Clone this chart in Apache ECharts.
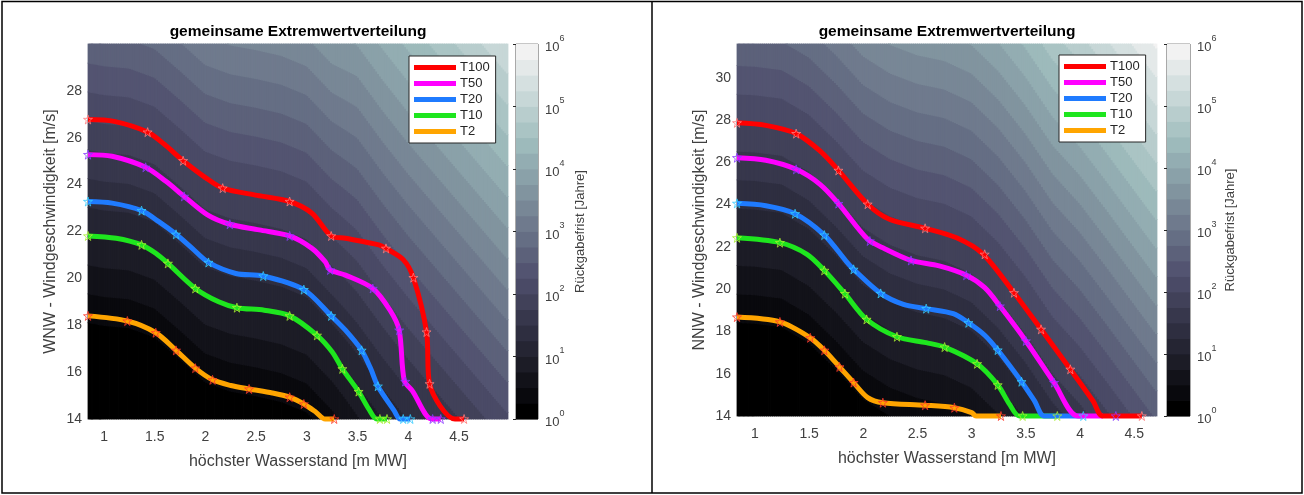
<!DOCTYPE html>
<html><head><meta charset="utf-8">
<script src="https://cdn.jsdelivr.net/npm/echarts@6/dist/echarts.min.js"></script>
<style>html,body{margin:0;padding:0;background:#fff}#c{width:1304px;height:495px}</style>
</head><body><div id="c"></div>
<script>
// ---------------- DATA ----------------
const seriesNames = ['T100', 'T50', 'T20', 'T10', 'T2'];
const xTickValues = [1, 1.5, 2, 2.5, 3, 3.5, 4, 4.5];
const yTickValuesLeft = [14, 16, 18, 20, 22, 24, 26, 28];
const yTickValuesRight = [14, 16, 18, 20, 22, 24, 26, 28, 30];
const cbLevels = [0, 0.25, 0.5, 0.75, 1, 1.25, 1.5, 1.75, 2, 2.25, 2.5, 2.75, 3, 3.25, 3.5, 3.75, 4, 4.25, 4.5, 4.75, 5, 5.25, 5.5, 5.75, 6];
const cbTickExponents = [0, 1, 2, 3, 4, 5, 6];

// left panel (WNW) contour lines
const lT100X = [0.842, 1.10, 1.43, 1.60, 1.78, 2.00, 2.17, 2.51, 2.83, 3.05, 3.24, 3.38, 3.71, 3.78, 3.95, 4.05, 4.18, 4.21, 4.46, 4.55];
const lT100Y = [26.78, 26.70, 26.24, 25.70, 25.02, 24.30, 23.85, 23.54, 23.28, 22.78, 21.81, 21.71, 21.43, 21.28, 20.80, 20.03, 17.71, 15.50, 14.0, 14.0];
const lT50X = [0.842, 1.08, 1.41, 1.61, 1.79, 2.02, 2.24, 2.53, 2.83, 3.05, 3.18, 3.23, 3.38, 3.65, 3.82, 3.91, 3.96, 4.04, 4.23, 4.32];
const lT50Y = [25.28, 25.21, 24.74, 24.14, 23.50, 22.71, 22.31, 22.07, 21.81, 21.28, 20.71, 20.36, 20.14, 19.57, 18.64, 17.79, 15.64, 15.20, 14.0, 14.0];
const lT20X = [0.842, 1.08, 1.37, 1.54, 1.71, 1.87, 2.03, 2.30, 2.57, 2.97, 3.24, 3.38, 3.54, 3.63, 3.70, 3.86, 3.92, 4.02];
const lT20Y = [23.28, 23.21, 22.89, 22.42, 21.88, 21.28, 20.68, 20.21, 20.10, 19.52, 18.40, 17.79, 16.93, 16.14, 15.40, 14.36, 14.0, 14.0];
const lT10X = [0.842, 1.12, 1.37, 1.51, 1.63, 1.90, 2.13, 2.31, 2.58, 2.83, 3.10, 3.25, 3.35, 3.51, 3.61, 3.69, 3.79];
const lT10Y = [21.81, 21.71, 21.43, 21.07, 20.64, 19.57, 19.00, 18.75, 18.64, 18.40, 17.57, 16.86, 16.14, 15.17, 14.43, 14.0, 14.0];
const lT2X = [0.842, 1.23, 1.51, 1.71, 1.90, 2.07, 2.25, 2.43, 2.66, 2.83, 2.97, 3.09, 3.18, 3.27];
const lT2Y = [18.40, 18.18, 17.68, 16.93, 16.17, 15.67, 15.43, 15.28, 15.11, 14.93, 14.64, 14.29, 14.0, 14.0];

// left panel star markers
const lS100X = [0.842, 1.43, 1.78, 2.17, 2.83, 3.24, 3.78, 4.05, 4.18, 4.21, 4.55];
const lS100Y = [26.78, 26.24, 25.02, 23.85, 23.28, 21.81, 21.28, 20.03, 17.71, 15.50, 14.0];
const lS50X = [0.842, 1.41, 1.79, 2.24, 2.83, 3.23, 3.65, 3.91, 3.97, 4.24, 4.32];
const lS50Y = [25.28, 24.74, 23.50, 22.31, 21.81, 20.36, 19.57, 17.79, 15.60, 14.0, 14.0];
const lS20X = [0.842, 1.37, 1.71, 2.03, 2.57, 2.97, 3.24, 3.54, 3.70, 3.95, 4.02];
const lS20Y = [23.28, 22.89, 21.88, 20.68, 20.10, 19.52, 18.40, 16.93, 15.40, 14.0, 14.0];
const lS10X = [0.842, 1.37, 1.63, 1.90, 2.31, 2.83, 3.10, 3.35, 3.51, 3.72, 3.79];
const lS10Y = [21.81, 21.43, 20.64, 19.57, 18.75, 18.40, 17.57, 16.14, 15.17, 14.0, 14.0];
const lS2X = [0.842, 1.23, 1.51, 1.71, 1.90, 2.07, 2.43, 2.83, 2.97, 3.27];
const lS2Y = [18.40, 18.18, 17.68, 16.93, 16.17, 15.67, 15.28, 14.93, 14.64, 14.0];

// right panel (NNW) contour lines
const rT100X = [0.834, 1.10, 1.38, 1.60, 1.77, 2.04, 2.24, 2.57, 2.86, 3.10, 3.39, 3.64, 3.91, 4.12, 4.21, 4.57];
const rT100Y = [27.87, 27.75, 27.36, 26.54, 25.62, 24.02, 23.31, 22.88, 22.43, 21.68, 19.83, 18.10, 16.21, 14.71, 14.0, 14.0];
const rT50X = [0.834, 1.10, 1.38, 1.60, 1.77, 2.04, 2.18, 2.44, 2.70, 2.95, 3.12, 3.26, 3.50, 3.76, 3.98, 4.21];
const rT50Y = [26.22, 26.10, 25.67, 24.96, 24.05, 22.36, 21.96, 21.36, 21.10, 20.66, 20.07, 19.20, 17.55, 15.58, 14.0, 14.0];
const rT20X = [0.834, 1.10, 1.37, 1.64, 1.84, 1.91, 2.16, 2.37, 2.58, 2.83, 2.97, 3.12, 3.24, 3.46, 3.58, 3.67, 4.03];
const rT20Y = [24.06, 23.95, 23.57, 22.56, 21.33, 20.94, 19.80, 19.28, 19.08, 18.84, 18.41, 17.82, 17.12, 15.62, 14.71, 14.0, 14.0];
const rT10X = [0.834, 1.23, 1.48, 1.64, 1.83, 2.03, 2.31, 2.58, 2.75, 3.05, 3.24, 3.35, 3.44, 3.79];
const rT10Y = [22.43, 22.20, 21.65, 20.89, 19.79, 18.57, 17.75, 17.47, 17.26, 16.47, 15.47, 14.55, 14.0, 14.0];
const rT2X = [0.834, 1.23, 1.51, 1.64, 1.78, 1.91, 2.04, 2.18, 2.57, 2.84, 3.00, 3.04, 3.27];
const rT2Y = [18.68, 18.45, 17.70, 17.11, 16.32, 15.58, 14.87, 14.63, 14.51, 14.39, 14.16, 14.0, 14.0];

// right panel star markers
const rS100X = [0.834, 1.38, 1.77, 2.04, 2.57, 3.12, 3.39, 3.64, 3.91, 4.57];
const rS100Y = [27.87, 27.36, 25.62, 24.02, 22.88, 21.65, 19.83, 18.10, 16.21, 14.0];
const rS50X = [0.834, 1.38, 1.77, 2.06, 2.44, 2.95, 3.26, 3.50, 3.76, 4.33];
const rS50Y = [26.22, 25.67, 24.05, 22.28, 21.36, 20.66, 19.20, 17.55, 15.58, 14.0];
const rS20X = [0.834, 1.37, 1.64, 1.91, 2.16, 2.58, 2.97, 3.24, 3.46, 4.03];
const rS20Y = [24.06, 23.57, 22.56, 20.94, 19.80, 19.08, 18.41, 17.12, 15.62, 14.0];
const rS10X = [0.834, 1.23, 1.64, 1.83, 2.03, 2.31, 2.75, 3.05, 3.24, 3.47, 3.79];
const rS10Y = [22.43, 22.20, 20.89, 19.79, 18.57, 17.75, 17.26, 16.47, 15.47, 14.0, 14.0];
const rS2X = [0.834, 1.23, 1.51, 1.64, 1.78, 1.91, 2.18, 2.57, 2.84, 3.27];
const rS2Y = [18.68, 18.45, 17.70, 17.11, 16.32, 15.58, 14.63, 14.51, 14.39, 14.0];

// background field: log10(return period) read at column nodes, bottom row and top row
const lBgX = [0.75, 1.0, 1.25, 1.5, 1.75, 2.0, 2.25, 2.5, 2.75, 3.0, 3.25, 3.5, 3.75, 4.0, 4.25, 4.5, 4.75, 5.0];
const lBgBottom = [-0.60, -0.56, -0.54, -0.46, -0.27, -0.07, 0.01, 0.05, 0.10, 0.19, 0.42, 0.72, 1.00, 1.26, 1.50, 1.74, 1.98, 2.22];   // at y = 14
const lBgTop = [2.65, 2.69, 2.71, 2.79, 2.98, 3.18, 3.26, 3.30, 3.35, 3.44, 3.67, 3.76, 4.04, 4.30, 4.54, 4.78, 5.02, 5.26];          // at y = 30
const rBgX = [0.75, 1.0, 1.25, 1.5, 1.75, 2.0, 2.25, 2.5, 2.75, 3.0, 3.25, 3.5, 3.75, 4.0, 4.25, 4.5, 4.75];
const rBgBottom = [-0.57, -0.56, -0.53, -0.39, -0.16, 0.10, 0.25, 0.34, 0.39, 0.50, 0.73, 1.03, 1.38, 1.64, 1.95, 2.27, 2.59];      // at y = 14
const rBgTop = [2.76, 2.77, 2.80, 2.94, 3.17, 3.43, 3.58, 3.67, 3.72, 3.83, 4.06, 4.36, 4.71, 4.97, 5.28, 5.60, 5.92];               // at y = 32

// ---------------- STYLE ----------------
const FONT = '"Liberation Sans", Arial, Helvetica, sans-serif';
const lineColors = ['#ff0000', '#ff00ff', '#1f7bff', '#1ee61e', '#ffa500'];
const starColors = ['#ff7a7a', '#8a3cff', '#33ccff', '#a8f030', '#ff3a2a'];
const STAR = 'path://M50,2 L61,37 L98,37 L68,59 L79,95 L50,73 L21,95 L32,59 L2,37 L39,37 Z';

function clamp01(v) { return Math.max(0, Math.min(1, v)); }
function bone(t) {
  const hr = Math.min(1, t / 0.375), hg = clamp01((t - 0.375) / 0.375), hb = clamp01((t - 0.75) / 0.25);
  return [(7 * t + hb) / 8, (7 * t + hg) / 8, (7 * t + hr) / 8];
}
const NB = cbLevels.length - 1;
const bandColors = [];
for (let k = 0; k < NB; k++) {
  const c = bone(k / (NB - 1)).map(v => Math.round(v * 255 * 0.95));
  bandColors.push('rgb(' + c.join(',') + ')');
}

function makeBg(bgX, bgBot, bgTop, yB, yT, xMin, xMax, yMin, yMax) {
  return function (params, api) {
    const i = api.value(2);
    const xa0 = bgX[i], xb0 = bgX[i + 1];
    const xa = Math.max(xa0, xMin), xb = Math.min(xb0, xMax);
    if (xb <= xa) return;
    const nSub = 14, children = [];
    for (let s = 0; s < nSub; s++) {
      const x0 = xa + (xb - xa) * s / nSub, x1 = xa + (xb - xa) * (s + 1) / nSub;
      const t = ((x0 + x1) / 2 - xa0) / (xb0 - xa0);
      const Lb = bgBot[i] + (bgBot[i + 1] - bgBot[i]) * t;
      const Lt = bgTop[i] + (bgTop[i + 1] - bgTop[i]) * t;
      const yOf = L => yB + (L - Lb) / (Lt - Lb) * (yT - yB);
      for (let k = 0; k < NB; k++) {
        let lo = k === 0 ? yMin : yOf(cbLevels[k]);
        let hi = k === NB - 1 ? yMax : yOf(cbLevels[k + 1]);
        lo = Math.max(lo, yMin); hi = Math.min(hi, yMax);
        if (hi <= lo) continue;
        const p0 = api.coord([x0, hi]), p1 = api.coord([x1, lo]);
        children.push({ type: 'rect', silent: true,
          shape: { x: p0[0] - 0.4, y: p0[1] - 0.4, width: p1[0] - p0[0] + 0.8, height: p1[1] - p0[1] + 0.8 },
          style: { fill: bandColors[k] } });
      }
    }
    return { type: 'group', children: children };
  };
}

function cbRender(params, api) {
  const k = api.value(2);
  const p0 = api.coord([0, Math.pow(10, cbLevels[k + 1])]);
  const p1 = api.coord([1, Math.pow(10, cbLevels[k])]);
  return { type: 'rect', silent: true,
    shape: { x: p0[0], y: p0[1] - 0.4, width: p1[0] - p0[0], height: p1[1] - p0[1] + 0.8 },
    style: { fill: bandColors[k] } };
}

const zip = (xs, ys) => xs.map((x, i) => [x, ys[i]]);

const panels = [
  { xMin: 0.842, xMax: 4.983, yMin: 14, yMax: 30, yTicks: yTickValuesLeft, yName: 'WNW - Windgeschwindigkeit [m/s]',
    grid: { left: 88, top: 44, width: 420, height: 375 }, cb: { left: 516, top: 44, width: 22, height: 375 },
    titleX: 298, legend: { left: 409, top: 56 }, cbGap: 36,
    bg: [lBgX, lBgBottom, lBgTop, 14, 30],
    lines: [[lT100X, lT100Y], [lT50X, lT50Y], [lT20X, lT20Y], [lT10X, lT10Y], [lT2X, lT2Y]],
    stars: [[lS100X, lS100Y], [lS50X, lS50Y], [lS20X, lS20Y], [lS10X, lS10Y], [lS2X, lS2Y]] },
  { xMin: 0.834, xMax: 4.71, yMin: 14, yMax: 31.6, yTicks: yTickValuesRight, yName: 'NNW - Windgeschwindigkeit [m/s]',
    grid: { left: 737, top: 44, width: 420, height: 372 }, cb: { left: 1167, top: 44, width: 23, height: 372 },
    titleX: 947, legend: { left: 1059, top: 55 }, cbGap: 34,
    bg: [rBgX, rBgBottom, rBgTop, 14, 32],
    lines: [[rT100X, rT100Y], [rT50X, rT50Y], [rT20X, rT20Y], [rT10X, rT10Y], [rT2X, rT2Y]],
    stars: [[rS100X, rS100Y], [rS50X, rS50Y], [rS20X, rS20Y], [rS10X, rS10Y], [rS2X, rS2Y]] }
];

const option = { animation: false, textStyle: { fontFamily: FONT },
  title: [], grid: [], xAxis: [], yAxis: [], legend: [], series: [],
  graphic: [
    { type: 'rect', shape: { x: 2, y: 1.5, width: 1300, height: 491.5 }, style: { fill: 'none', stroke: '#000', lineWidth: 1.5 }, silent: true, z: 100 },
    { type: 'line', shape: { x1: 652, y1: 1.5, x2: 652, y2: 493 }, style: { stroke: '#000', lineWidth: 1.5 }, silent: true, z: 100 }
  ] };

panels.forEach((p, pi) => {
  const gMain = pi * 2, gCb = pi * 2 + 1;
  option.title.push({ text: 'gemeinsame Extremwertverteilung', left: p.titleX, top: 24, textAlign: 'center', padding: 0,
    textStyle: { fontSize: 15.5, fontWeight: 'bold', color: '#000', fontFamily: FONT } });
  option.grid.push(Object.assign({ containLabel: false }, p.grid));
  option.grid.push(Object.assign({ show: true, borderColor: '#262626', borderWidth: 0.8, containLabel: false }, p.cb));
  option.xAxis.push({ type: 'value', gridIndex: gMain, min: p.xMin, max: p.xMax,
    axisLine: { show: false }, axisTick: { show: false }, splitLine: { show: false },
    axisLabel: { customValues: xTickValues, fontSize: 14, color: '#404040', margin: 11, fontFamily: FONT },
    name: 'höchster Wasserstand [m MW]', nameLocation: 'middle', nameGap: 35,
    nameTextStyle: { fontSize: 16, color: '#404040', fontFamily: FONT } });
  option.xAxis.push({ type: 'value', gridIndex: gCb, min: 0, max: 1, show: false });
  option.yAxis.push({ type: 'value', gridIndex: gMain, min: p.yMin, max: p.yMax,
    axisLine: { show: false }, axisTick: { show: false }, splitLine: { show: false },
    axisLabel: { customValues: p.yTicks, fontSize: 14, color: '#404040', margin: 6, fontFamily: FONT },
    name: p.yName, nameLocation: 'middle', nameGap: 29, nameRotate: 90,
    nameTextStyle: { fontSize: 16, color: '#404040', fontFamily: FONT } });
  option.yAxis.push({ type: 'log', logBase: 10, gridIndex: gCb, min: 1, max: 1e6, position: 'right',
    axisLine: { show: false }, splitLine: { show: false },
    axisTick: { show: true, inside: true, length: 3, lineStyle: { color: '#262626', width: 1 }, customValues: cbTickExponents.map(e => Math.pow(10, e)) },
    axisLabel: { customValues: cbTickExponents.map(e => Math.pow(10, e)), margin: 7,
      formatter: v => '{b|10}{s|' + Math.round(Math.log10(v)) + '}',
      rich: { b: { fontSize: 13, color: '#404040', fontFamily: FONT, padding: [7, 0, 0, 0] },
              s: { fontSize: 9, color: '#404040', fontFamily: FONT, verticalAlign: 'top' } } },
    name: 'Rückgabefrist [Jahre]', nameLocation: 'middle', nameGap: p.cbGap, nameRotate: 90,
    nameTextStyle: { fontSize: 13, color: '#404040', fontFamily: FONT } });

  option.legend.push({ left: p.legend.left, top: p.legend.top, orient: 'vertical', data: seriesNames,
    icon: 'rect', itemWidth: 42, itemHeight: 5, itemGap: 3, padding: [5, 6, 5, 5],
    backgroundColor: '#ffffff', borderColor: '#262626', borderWidth: 1, borderRadius: 0,
    textStyle: { fontSize: 13, color: '#262626', fontFamily: FONT, padding: [0, 0, 0, -1] }, selectedMode: false });

  // background filled-contour field
  const [bx, bb, bt, yB, yT] = p.bg;
  option.series.push({ type: 'custom', name: 'bg' + pi, xAxisIndex: gMain, yAxisIndex: gMain, silent: true, z: 1,
    renderItem: makeBg(bx, bb, bt, yB, yT, p.xMin, p.xMax, p.yMin, p.yMax),
    encode: { x: 0, y: 1 }, data: bx.slice(0, -1).map((x, i) => [x, yB, i]) });
  // colorbar bands
  option.series.push({ type: 'custom', name: 'cb' + pi, xAxisIndex: gCb + 0, yAxisIndex: gCb, silent: true, z: 1,
    renderItem: cbRender, encode: { x: 0, y: 1 },
    data: cbLevels.slice(0, -1).map((v, k) => [0.5, Math.pow(10, v + 0.125), k]) });

  // contour lines (draw T2 first so T100 on top)
  for (let j = seriesNames.length - 1; j >= 0; j--) {
    option.series.push({ type: 'line', name: seriesNames[j], xAxisIndex: gMain, yAxisIndex: gMain,
      data: zip(p.lines[j][0], p.lines[j][1]), smooth: 0.3, showSymbol: false, clip: false, silent: true, z: 3,
      lineStyle: { width: 5, color: lineColors[j] }, itemStyle: { color: lineColors[j] } });
  }
  for (let j = seriesNames.length - 1; j >= 0; j--) {
    option.series.push({ type: 'scatter', name: seriesNames[j] + ' *' + pi, xAxisIndex: gMain, yAxisIndex: gMain,
      data: zip(p.stars[j][0], p.stars[j][1]), symbol: STAR, symbolSize: 9, clip: false, silent: true, z: 4,
      itemStyle: { color: 'rgba(255,255,255,0)', borderColor: starColors[j], borderWidth: 1 } });
  }
});

const chart = echarts.init(document.getElementById('c'), null, { renderer: 'canvas' });
chart.setOption(option);
</script></body></html>
